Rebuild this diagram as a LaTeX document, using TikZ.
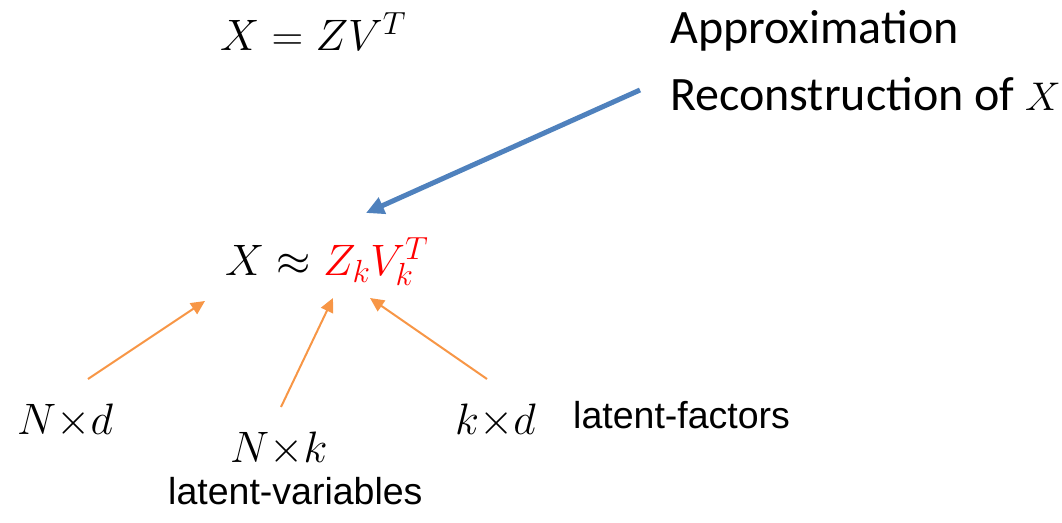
\RequirePackage{fix-cm}
\documentclass[tikz,border=0pt]{standalone}
\usepackage{fontspec}
\newfontfamily\calibri{Carlito}
\newfontfamily\arial{Liberation Sans}
\usetikzlibrary{arrows.meta}
\definecolor{ppblue}{RGB}{79,129,189}
\definecolor{pporange}{RGB}{247,150,70}
\definecolor{ppred}{RGB}{255,0,0}
\DeclareMathSizes{44}{44}{32}{24}
\DeclareMathSizes{40}{40}{29}{22}
\begin{document}
\begin{tikzpicture}[x=1pt,y=-1pt,
  txt/.style={inner sep=0pt, anchor=base west},
  mathbig/.style={txt, font=\fontsize{44}{52}\selectfont},
  cal/.style={txt, font=\calibri\fontsize{48}{58}\selectfont},
  sans/.style={txt, font=\arial\fontsize{37.5}{44}\selectfont},
  orangearrow/.style={draw=pporange, line width=2pt, -{Triangle[length=14pt,width=13pt]}},
  bluearrow/.style={draw=ppblue, line width=5pt, -{Triangle[length=18pt,width=17pt]}}]
\useasboundingbox (0,0) rectangle (1062,522);
% equations
\node[mathbig] (eqA) at (220,50) {$X = ZV^T$};
\node[mathbig] (eqB) at (225,275) {$X \approx {\color{ppred} Z_k V_k^T}$};
% right labels
\node[cal] (approx) at (670,43) {Approximation};
\node[cal] (recon) at (670,110) {Reconstruction of {\fontsize{40}{48}\selectfont$X$}};
% dimensions
\node[mathbig] (nd) at (17,434) {$N{\times}d$};
\node[mathbig] (nk) at (230,462) {$N{\times}k$};
\node[mathbig] (kd) at (455,434) {$k{\times}d$};
\node[sans] (lv) at (168,504) {latent-variables};
\node[sans] (lf) at (573,428) {latent-factors};
% arrow end points
\coordinate (a1s) at (88,379);  \coordinate (a1e) at (205,301);
\coordinate (a2s) at (281,407); \coordinate (a2e) at (333,298);
\coordinate (a3s) at (487,379); \coordinate (a3e) at (370,298);
\coordinate (bs) at (640,90);   \coordinate (be) at (366,213);
\draw[orangearrow] (a1s) -- (a1e);
\draw[orangearrow] (a2s) -- (a2e);
\draw[orangearrow] (a3s) -- (a3e);
\draw[bluearrow] (bs) -- (be);
\end{tikzpicture}
\end{document}
